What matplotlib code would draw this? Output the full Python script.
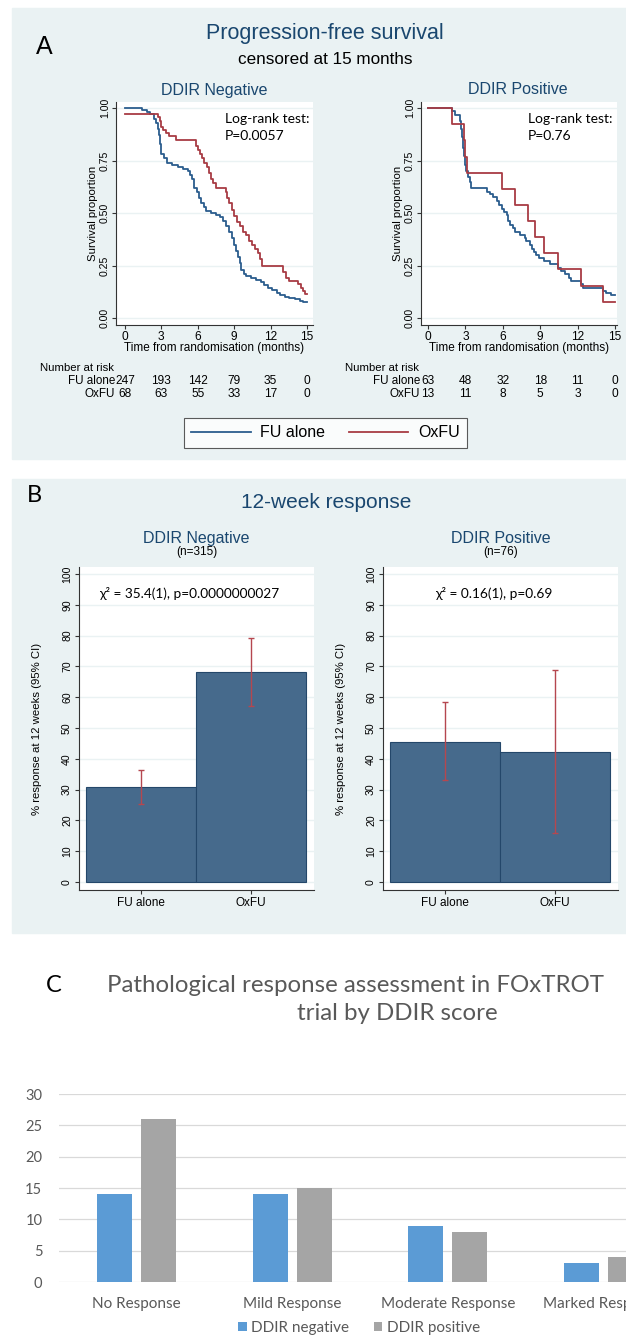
import numpy as np
import matplotlib
matplotlib.use("Agg")
import matplotlib.pyplot as plt
from matplotlib.patches import Rectangle
from matplotlib.transforms import blended_transform_factory

# ---- data ----
# Panel A: Kaplan-Meier step points (time in months, survival proportion)
fu_neg_t = [0, 1.4, 1.8, 2.1, 2.35, 2.55, 2.7, 2.8, 2.9, 3.0, 3.2, 3.5, 3.9, 4.35, 4.8, 5.2, 5.35,
            5.5, 5.7, 5.9, 6.1, 6.3, 6.5, 6.7, 7.1, 7.5, 7.8, 8.1, 8.35, 8.6, 8.8, 9.0, 9.15, 9.3,
            9.45, 9.6, 9.8, 10.0, 10.4, 10.8, 11.2, 11.5, 11.8, 12.1, 12.5, 12.8, 13.2, 13.5, 14.0,
            14.4, 14.7, 15.0]
fu_neg_s = [1.0, 0.99, 0.98, 0.97, 0.95, 0.93, 0.90, 0.87, 0.83, 0.78, 0.76, 0.74, 0.73, 0.72, 0.71,
            0.70, 0.68, 0.66, 0.62, 0.60, 0.57, 0.55, 0.53, 0.51, 0.50, 0.49, 0.48, 0.46, 0.44, 0.41,
            0.38, 0.35, 0.32, 0.29, 0.26, 0.23, 0.21, 0.20, 0.19, 0.18, 0.17, 0.155, 0.145, 0.135,
            0.12, 0.11, 0.10, 0.095, 0.09, 0.08, 0.075, 0.075]
ox_neg_t = [0, 2.7, 2.85, 3.0, 3.15, 3.35, 3.6, 4.2, 5.85, 6.0, 6.15, 6.35, 6.55, 6.75, 6.9, 7.05,
            7.25, 7.5, 8.3, 8.4, 8.6, 8.8, 9.0, 9.2, 9.45, 9.75, 10.0, 10.25, 10.45, 10.7, 10.95,
            11.15, 11.3, 13.05, 13.3, 13.55, 14.3, 14.5, 14.7, 14.85, 15.0]
ox_neg_s = [0.97, 0.955, 0.94, 0.91, 0.895, 0.88, 0.865, 0.85, 0.82, 0.80, 0.78, 0.76, 0.74, 0.72,
            0.69, 0.66, 0.645, 0.62, 0.60, 0.57, 0.55, 0.515, 0.485, 0.455, 0.44, 0.41, 0.395,
            0.365, 0.35, 0.33, 0.31, 0.28, 0.25, 0.22, 0.19, 0.175, 0.16, 0.145, 0.13, 0.115, 0.115]
fu_pos_t = [0, 1.95, 2.2, 2.6, 2.65, 2.72, 2.8, 2.88, 2.95, 3.05, 3.2, 3.35, 3.47, 4.7, 5.0, 5.2,
            5.5, 5.7, 5.9, 6.1, 6.3, 6.45, 6.6, 6.8, 6.95, 7.4, 7.75, 7.9, 8.2, 8.35, 8.5, 8.65,
            8.9, 9.3, 9.75, 10.4, 10.65, 10.95, 11.3, 11.45, 12.3, 12.4, 14.05, 14.3, 14.7, 15.0]
fu_pos_s = [1.0, 0.984, 0.968, 0.94, 0.90, 0.86, 0.81, 0.77, 0.73, 0.70, 0.67, 0.65, 0.62, 0.60,
            0.59, 0.575, 0.555, 0.54, 0.52, 0.505, 0.49, 0.46, 0.445, 0.43, 0.41, 0.395, 0.38,
            0.365, 0.35, 0.33, 0.315, 0.30, 0.285, 0.27, 0.255, 0.24, 0.225, 0.21, 0.19, 0.175,
            0.16, 0.145, 0.13, 0.12, 0.11, 0.11]
ox_pos_t = [0, 1.94, 2.92, 3.0, 3.14, 5.92, 6.94, 8.0, 8.6, 9.3, 10.4, 12.3, 14.03, 15.0]
ox_pos_s = [1.0, 0.923, 0.846, 0.769, 0.692, 0.615, 0.538, 0.462, 0.385, 0.308, 0.231, 0.154,
            0.077, 0.077]

risk_times = [0, 3, 6, 9, 12, 15]
risk_fu_neg = [247, 193, 142, 79, 35, 0]
risk_ox_neg = [68, 63, 55, 33, 17, 0]
risk_fu_pos = [63, 48, 32, 18, 11, 0]
risk_ox_pos = [13, 11, 8, 5, 3, 0]

# Panel B: 12-week response (%) with 95% CI
arms = ["FU alone", "OxFU"]
resp_neg = [30.7, 68.3]
ci_neg_lo = [25.3, 57.3]
ci_neg_hi = [36.4, 79.4]
resp_pos = [45.6, 42.3]
ci_pos_lo = [33.0, 15.8]
ci_pos_hi = [58.5, 69.0]

# Panel C: pathological response counts
path_cats = ["No Response", "Mild Response", "Moderate Response", "Marked Response"]
ddir_neg = [14, 14, 9, 3]
ddir_pos = [26, 15, 8, 4]

# ---- style ----
W, H = 626, 1337
BG = "#eaf2f3"
NAVY = "#1a476f"
KM_BLUE = "#2b5d8e"
KM_RED = "#a83c44"
BAR = "#466a8c"
ERR = "#b5474f"
XL_BLUE = "#5b9bd5"
XL_GREY = "#a5a5a5"
XL_TXT = "#595959"
ARIAL = "Liberation Sans"
CAL = ["Lato", "DejaVu Sans"]

plt.rcParams["font.family"] = ARIAL

fig = plt.figure(figsize=(W / 100, H / 100), dpi=100)


def fx(x):
    return x / W


def fy(y):
    return 1 - y / H


def box(x0, y0, x1, y1):
    return [x0 / W, 1 - y1 / H, (x1 - x0) / W, (y1 - y0) / H]


# panel backgrounds (behind the axes)
for y0, y1 in [(8, 459), (479, 933)]:
    fig.patches.append(Rectangle((fx(12), fy(y1)), (W - 12) / W, (y1 - y0) / H,
                                 transform=fig.transFigure, color=BG, zorder=-5))

### Panel A ###
fig.text(fx(44), fy(47), "A", fontsize=18, ha="center", va="center")
fig.text(fx(325), fy(33), "Progression-free survival", fontsize=15.5, color=NAVY,
         ha="center", va="center")
fig.text(fx(325), fy(60), "censored at 15 months", fontsize=12.3, ha="center", va="center")


def km_axes(rect, xlim, title, title_x, pval, p_x, fu, ox, risks):
    ax = fig.add_axes(box(*rect))
    ax.set_facecolor("white")
    ax.set_xlim(*xlim)
    ax.set_ylim(-0.0333, 1.0286)
    for yv in [0, 0.25, 0.5, 0.75, 1.0]:
        ax.axhline(yv, color=BG, lw=1.0, zorder=1)
    l1, = ax.step(fu[0], fu[1], where="post", color=KM_BLUE, lw=1.3, zorder=3)
    l2, = ax.step(ox[0], ox[1], where="post", color=KM_RED, lw=1.3, zorder=3)
    for s in ["top", "right"]:
        ax.spines[s].set_visible(False)
    for s in ["left", "bottom"]:
        ax.spines[s].set_color("#333333")
        ax.spines[s].set_linewidth(0.8)
    ax.set_xticks(risk_times)
    ax.set_yticks([0, 0.25, 0.5, 0.75, 1.0])
    ax.set_yticklabels(["0.00", "0.25", "0.50", "0.75", "1.00"], rotation=90, va="center")
    ax.tick_params(axis="x", labelsize=8.6, length=3, pad=1.5, color="#333333")
    ax.tick_params(axis="y", labelsize=7.6, length=3, pad=1.5, color="#333333")
    ax.set_xlabel("Time from randomisation (months)", fontsize=8.5, labelpad=-1)
    ax.set_ylabel("Survival proportion", fontsize=8.2, labelpad=1)
    fig.text(fx(title_x), fy(90), title, fontsize=11.5, color=NAVY, ha="center", va="center")
    fig.text(fx(p_x), fy(119), "Log-rank test:", fontsize=10, family=CAL, ha="left", va="center")
    fig.text(fx(p_x), fy(136), pval, fontsize=10, family=CAL, ha="left", va="center")
    # number at risk table
    tr = blended_transform_factory(ax.transData, fig.transFigure)
    fig.text(fx(rect[0] - 76), fy(368), "Number at risk", fontsize=8.2, ha="left", va="center")
    for lab, vals, yy in [("FU alone", risks[0], 381), ("OxFU", risks[1], 394)]:
        fig.text(fx(rect[0] - 1), fy(yy), lab, fontsize=8.4, ha="right", va="center")
        for t, v in zip(risk_times, vals):
            ax.text(t, fy(yy), str(v), transform=tr, fontsize=8.6, ha="center", va="center")
    return l1, l2


l1, l2 = km_axes((116, 102, 313, 325), (-0.742, 15.5), "DDIR Negative", 214, "P=0.0057", 225,
                 (fu_neg_t, fu_neg_s), (ox_neg_t, ox_neg_s), (risk_fu_neg, risk_ox_neg))
km_axes((421, 102, 617, 325), (-0.561, 15.16), "DDIR Positive", 518, "P=0.76", 528,
        (fu_pos_t, fu_pos_s), (ox_pos_t, ox_pos_s), (risk_fu_pos, risk_ox_pos))

leg = fig.legend(handles=[l1, l2], labels=["FU alone", "OxFU"], loc="center",
                 bbox_to_anchor=(fx(325.5), fy(433)), ncol=2, frameon=True, fancybox=False,
                 edgecolor="#333333", fontsize=11.5, handlelength=3.7, handletextpad=0.6,
                 columnspacing=1.5, borderpad=0.45)
leg.get_frame().set_linewidth(0.8)

### Panel B ###
fig.text(fx(34), fy(496), "B", fontsize=17, family=CAL, ha="center", va="center")
fig.text(fx(326), fy(502), "12-week response", fontsize=15, color=NAVY, ha="center", va="center")


def resp_axes(rect, title, n_lab, chi, vals, lo, hi, lab_x):
    ax = fig.add_axes(box(*rect))
    ax.set_facecolor("white")
    cx = (rect[0] + rect[2]) / 2
    fig.text(fx(cx), fy(538), title, fontsize=11.5, color=NAVY, ha="center", va="center")
    fig.text(fx(cx), fy(552), n_lab, fontsize=8.5, ha="center", va="center")
    x = np.arange(1, len(vals) + 1)
    for yv in range(0, 101, 10):
        ax.axhline(yv, color=BG, lw=1.0, zorder=0)
    ax.bar(x, vals, width=1.0, color=BAR, edgecolor="#24476a", linewidth=0.8, zorder=2)
    err = [np.array(vals) - np.array(lo), np.array(hi) - np.array(vals)]
    ax.errorbar(x, vals, yerr=err, fmt="none", ecolor=ERR, elinewidth=1.0, capsize=2.5,
                capthick=1.0, zorder=3)
    ax.set_xlim(0.436, 2.57)
    ax.set_ylim(-2.6, 102.3)
    ax.set_xticks(x)
    ax.set_xticklabels(arms)
    ax.set_yticks(range(0, 101, 10))
    ax.set_yticklabels([str(v) for v in range(0, 101, 10)], rotation=90, va="center")
    for s in ["top", "right"]:
        ax.spines[s].set_visible(False)
    for s in ["left", "bottom"]:
        ax.spines[s].set_color("#333333")
        ax.spines[s].set_linewidth(0.8)
    ax.tick_params(axis="x", labelsize=8.5, length=3, pad=2, color="#333333")
    ax.tick_params(axis="y", labelsize=7.6, length=3, pad=2, color="#333333")
    ax.set_ylabel("% response at 12 weeks (95% CI)", fontsize=8.2)
    ax.yaxis.set_label_coords((lab_x - rect[0]) / (rect[2] - rect[0]), 0.5)
    fig.text(fx(cx - 7), fy(593), chi, fontsize=9.8, family=CAL, ha="center", va="center")


resp_axes((79, 567, 314, 890), "DDIR Negative", "(n=315)", "χ² = 35.4(1), p=0.0000000027",
          resp_neg, ci_neg_lo, ci_neg_hi, 42)
resp_axes((383, 567, 618, 890), "DDIR Positive", "(n=76)", "χ² = 0.16(1), p=0.69",
          resp_pos, ci_pos_lo, ci_pos_hi, 346)

### Panel C ###
fig.text(fx(54), fy(986), "C", fontsize=17, family=CAL, ha="center", va="center")
fig.text(fx(356), fy(986), "Pathological response assessment in FOxTROT", fontsize=17.3,
         family=CAL, color=XL_TXT, ha="center", va="center")
fig.text(fx(397), fy(1013), "trial by DDIR score", fontsize=17.3, family=CAL, color=XL_TXT,
         ha="center", va="center")

axc = fig.add_axes(box(59, 1094, 681, 1282))
xc = np.arange(len(path_cats))
b1 = axc.bar(xc - 0.143, ddir_neg, width=0.225, color=XL_BLUE, zorder=2)
b2 = axc.bar(xc + 0.143, ddir_pos, width=0.225, color=XL_GREY, zorder=2)
axc.set_xlim(-0.5, 3.5)
axc.set_ylim(0, 30)
axc.set_yticks(range(0, 31, 5))
axc.grid(axis="y", color="#d9d9d9", lw=0.9, zorder=0)
for s in axc.spines.values():
    s.set_visible(False)
axc.set_xticks(xc)
axc.set_xticklabels(path_cats)
for lab in axc.get_xticklabels() + axc.get_yticklabels():
    lab.set_family(CAL)
axc.tick_params(axis="y", length=0, pad=12, labelsize=10.5, labelcolor=XL_TXT)
axc.tick_params(axis="x", length=0, pad=11, labelsize=11, labelcolor=XL_TXT)
axc.legend([b1, b2], ["DDIR negative", "DDIR positive"], loc="center",
           bbox_to_anchor=(fx(359), fy(1328)), bbox_transform=fig.transFigure, ncol=2,
           frameon=False, handlelength=0.55, handleheight=0.55, handletextpad=0.3,
           columnspacing=1.6, prop={"family": CAL, "size": 11}, labelcolor=XL_TXT)

fig.savefig("out.png", dpi=100)
